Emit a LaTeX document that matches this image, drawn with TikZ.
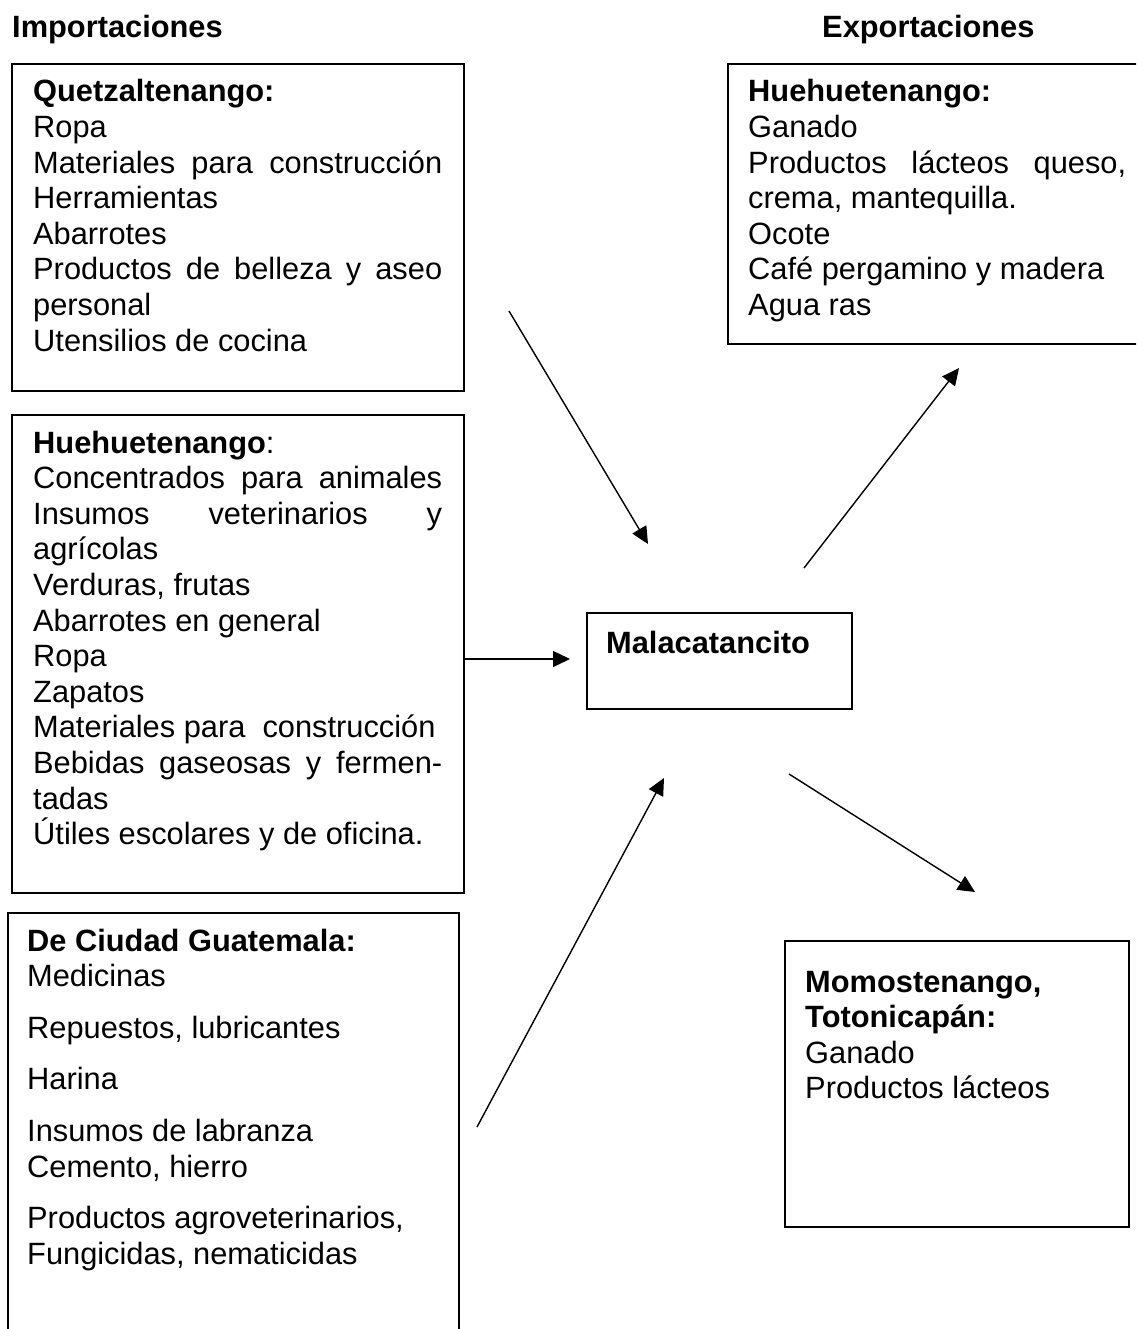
\documentclass[tikz,border=0pt]{standalone}
\usepackage{fontspec}
\setmainfont{Liberation Sans}
\usetikzlibrary{arrows.meta}
\newcommand\justline[2][409pt]{\makebox[#1][s]{#2}}
\begin{document}
\begin{tikzpicture}[x=1pt,y=-1pt,
  frame/.style={draw=black,line width=1.6pt,anchor=north west,inner sep=0pt},
  txt/.style={anchor=base west,inner sep=0pt,font=\fontsize{30.8}{35.6}\selectfont},
  arr/.style={line width=1.4pt,-{Triangle[length=17pt,width=16pt]}}]
\useasboundingbox (0,0) rectangle (1136,1329);
\fill[white] (0,0) rectangle (1136,1329);
\clip (0,0) rectangle (1136,1329);

% headings
\node[txt] (himp) at (12,38) {\textbf{Importaciones}};
\node[txt] (hexp) at (822,38) {\textbf{Exportaciones}};

% boxes
\node[frame,minimum width=452pt,minimum height=327pt] (qbox) at (11,63) {};
\node[frame,minimum width=452pt,minimum height=478pt] (hbox) at (11,414) {};
\node[frame,minimum width=451pt,minimum height=440pt] (gbox) at (7,912) {};
\node[frame,minimum width=430pt,minimum height=280pt] (ebox) at (727,63) {};
\node[frame,minimum width=265pt,minimum height=96pt] (mbox) at (586,612) {};
\node[frame,minimum width=344pt,minimum height=286pt] (tbox) at (784,940) {};

% texts
\node[txt] (qtxt) at (33,102) {\parbox[t]{430pt}{%
\textbf{Quetzaltenango:}\\
Ropa\\
\justline{Materiales para construcción}\\
Herramientas\\
Abarrotes\\
\justline{Productos de belleza y aseo}\\
personal\\
Utensilios de cocina}};

\node[txt] (htxt) at (33,453) {\parbox[t]{430pt}{%
\textbf{Huehuetenango}:\\
\justline{Concentrados para animales}\\
\justline{Insumos veterinarios y}\\
agrícolas\\
Verduras, frutas\\
Abarrotes en general\\
Ropa\\
Zapatos\\
Materiales para\ \ construcción\\
\justline{Bebidas gaseosas y fermen-}\\
tadas\\
Útiles escolares y de oficina.}};

\node[txt] (gtxt) at (27,951) {\parbox[t]{430pt}{%
\textbf{De Ciudad Guatemala:}\\
Medicinas\\[16pt]
Repuestos, lubricantes\\[16pt]
Harina\\[16pt]
Insumos de labranza\\
Cemento, hierro\\[16pt]
Productos agroveterinarios,\\
Fungicidas, nematicidas}};

\node[txt] (etxt) at (748,102) {\parbox[t]{400pt}{%
\textbf{Huehuetenango:}\\
Ganado\\
\justline[378pt]{Productos lácteos queso,}\\
crema, mantequilla.\\
Ocote\\
Café pergamino y madera\\
Agua ras}};

\node[txt] (mtxt) at (606,653) {\textbf{Malacatancito}};

\node[txt] (ttxt) at (805,992) {\parbox[t]{320pt}{%
\textbf{Momostenango,}\\
\textbf{Totonicapán:}\\
Ganado\\
Productos lácteos}};

% arrow end points
\coordinate (a1s) at (509,311);
\coordinate (a1e) at (648,544);
\coordinate (a2s) at (463,659);
\coordinate (a2e) at (570,659);
\coordinate (a3s) at (804,568);
\coordinate (a3e) at (959,368);
\coordinate (a4s) at (477,1127);
\coordinate (a4e) at (664,778);
\coordinate (a5s) at (789,774);
\coordinate (a5e) at (975,892);

\draw[arr] (a1s) -- (a1e);
\draw[arr] (a2s) -- (a2e);
\draw[arr] (a3s) -- (a3e);
\draw[arr] (a4s) -- (a4e);
\draw[arr] (a5s) -- (a5e);
\end{tikzpicture}
\end{document}
